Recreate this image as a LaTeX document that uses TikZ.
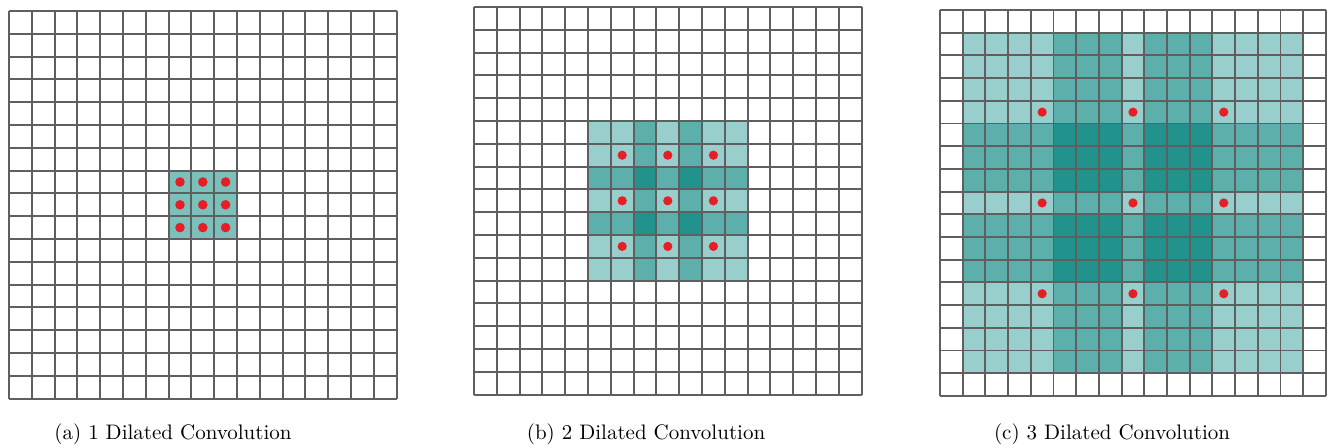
\documentclass[tikz,border=0pt]{standalone}
\definecolor{tcA}{RGB}{124,192,188}
\definecolor{tc1}{RGB}{152,206,204}
\definecolor{tc2}{RGB}{92,175,171}
\definecolor{tc4}{RGB}{34,146,141}
\definecolor{dotred}{RGB}{232,30,38}
\definecolor{gridline}{RGB}{95,95,95}
\tikzset{
  gridln/.style={draw=gridline, line width=0.95pt},
  kdot/.style={fill=dotred},
  caption/.style={font=\fontsize{10.5}{12}\selectfont, anchor=center, inner sep=0pt}
}
\begin{document}
\begin{tikzpicture}[x=0.5pt,y=-0.5pt]
\useasboundingbox (0,0) rectangle (1328,448);
\fill[white] (0,0) rectangle (1328,448);
% ---------- (a)
\begin{scope}[xshift=4.5pt,yshift=-5.5pt,x=11.4pt,y=-11.4pt]
  \fill[tcA] (7,7) rectangle (10,10);
  \foreach \k in {0,...,17} {
    \draw[gridln] (\k,0) -- (\k,17);
    \draw[gridln] (0,\k) -- (17,\k);
  }
  \foreach \i in {7,8,9} \foreach \j in {7,8,9}
    \fill[kdot] (\i+0.5,\j+0.5) circle[radius=2.4pt];
\end{scope}
% ---------- (b)
\begin{scope}[xshift=237pt,yshift=-3.5pt,x=11.4pt,y=-11.4pt]
  \foreach \i/\ci in {5/1,6/1,7/2,8/1,9/2,10/1,11/1}
    \foreach \j/\cj in {5/1,6/1,7/2,8/1,9/2,10/1,11/1} {
      \pgfmathtruncatemacro\p{\ci*\cj}
      \fill[fill=tc\p] (\i,\j) rectangle (\i+1,\j+1);
    }
  \foreach \k in {0,...,17} {
    \draw[gridln] (\k,0) -- (\k,17);
    \draw[gridln] (0,\k) -- (17,\k);
  }
  \foreach \i in {6,8,10} \foreach \j in {6,8,10}
    \fill[kdot] (\i+0.5,\j+0.5) circle[radius=2.3pt];
\end{scope}
% ---------- (c)
\begin{scope}[xshift=470pt,yshift=-5pt,x=11.35pt,y=-11.35pt]
  \foreach \i/\ci in {1/1,2/1,3/1,4/1,5/2,6/2,7/2,8/1,9/2,10/2,11/2,12/1,13/1,14/1,15/1}
    \foreach \j/\cj in {1/1,2/1,3/1,4/1,5/2,6/2,7/2,8/1,9/2,10/2,11/2,12/1,13/1,14/1,15/1} {
      \pgfmathtruncatemacro\p{\ci*\cj}
      \fill[fill=tc\p] (\i,\j) rectangle (\i+1,\j+1);
    }
  \foreach \k in {0,...,17} {
    \draw[gridln] (\k,0) -- (\k,17);
    \draw[gridln] (0,\k) -- (17,\k);
  }
  \foreach \i in {4,8,12} \foreach \j in {4,8,12}
    \fill[kdot] (\i+0.5,\j+0.5) circle[radius=2.3pt];
\end{scope}
% ---------- captions
\node[caption] (capa) at (173,434) {(a) 1 Dilated Convolution};
\node[caption] (capb) at (646,434) {(b) 2 Dilated Convolution};
\node[caption] (capc) at (1112,434) {(c) 3 Dilated Convolution};
\end{tikzpicture}
\end{document}
